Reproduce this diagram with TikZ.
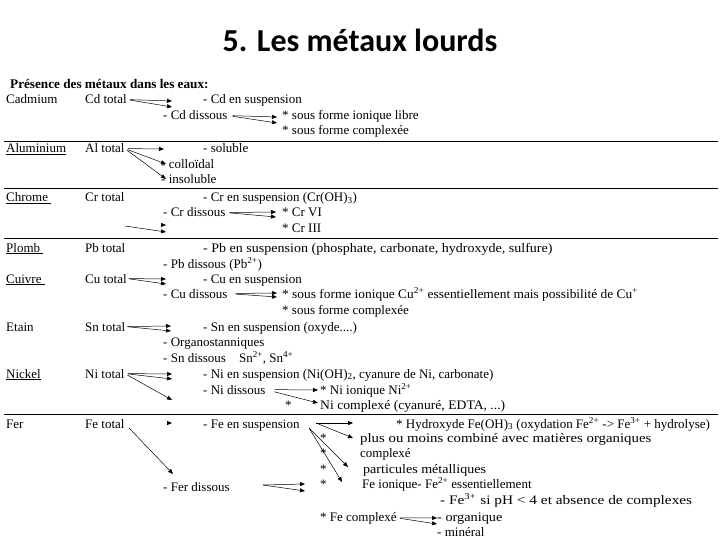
\documentclass[tikz,border=0pt]{standalone}
\usepackage{fontspec}
\usepackage{graphicx}
\setmainfont{Liberation Serif}
\newfontfamily\titlefont{Carlito}
\usetikzlibrary{arrows.meta}
\newcommand{\stretchtxt}[2]{\scalebox{#1}[1]{#2}}
\begin{document}
\begin{tikzpicture}[x=1pt,y=-1pt,
  txt/.style={anchor=base west, inner sep=0pt, font=\fontsize{13}{15}\selectfont},
  arr/.style={-{Triangle[length=5pt,width=4pt]}, line width=0.5pt},
  sep/.style={line width=0.9pt}]
\useasboundingbox (0,0) rectangle (720,540);
\fill[white] (0,0) rectangle (720,540);

% title and heading
\node[anchor=base, inner sep=0pt, font=\titlefont\bfseries\fontsize{32}{36}\selectfont] (title) at (360,52) {5. Les métaux lourds};
\node[txt, font=\bfseries\fontsize{13.2}{15}\selectfont] (head) at (10,89) {Présence des métaux dans les eaux:};

% separator rules
\coordinate (l1a) at (4,141);  \coordinate (l1b) at (718,141);
\coordinate (l2a) at (4,188);  \coordinate (l2b) at (718,188);
\coordinate (l3a) at (4,238);  \coordinate (l3b) at (718,238);
\coordinate (l4a) at (4,414);  \coordinate (l4b) at (718,414);
\draw[sep] (l1a) -- (l1b);
\draw[sep] (l2a) -- (l2b);
\draw[sep] (l3a) -- (l3b);
\draw[sep] (l4a) -- (l4b);

% Cadmium
\node[txt] (cad) at (6,104) {Cadmium};
\node[txt] (cdtot) at (85,104) {Cd total};
\node[txt] (cdsusp) at (203,104) {- Cd en suspension};
\node[txt] (cddis) at (163,120) {- Cd dissous};
\node[txt] (cdion) at (282,120) {* sous forme ionique libre};
\node[txt] (cdcpx) at (282,135) {* sous forme complexée};
\coordinate (cdt1) at (172,101);
\coordinate (cdt2) at (172,107);
\coordinate (cdd1) at (277,117);
\coordinate (cdd2) at (277,123);
\draw[arr, shorten <=3pt] (cdtot.east) -- (cdt1);
\draw[arr, shorten <=3pt] (cdtot.east) -- (cdt2);
\draw[arr, shorten <=5pt] (cddis.east) -- (cdd1);
\draw[arr, shorten <=5pt] (cddis.east) -- (cdd2);

% Aluminium
\node[txt] (alu) at (6,153) {\underline{Aluminium}};
\node[txt] (altot) at (85,153) {Al total};
\node[txt] (alsol) at (203,153) {- soluble};
\node[txt] (alcol) at (161,169) {- colloïdal};
\node[txt] (alins) at (161,184) {- insoluble};
\coordinate (alt1) at (164,149);
\coordinate (alt2) at (166,164);
\coordinate (alt3) at (166,179);
\draw[arr, shorten <=3pt] (altot.east) -- (alt1);
\draw[arr, shorten <=3pt] (altot.east) -- (alt2);
\draw[arr, shorten <=3pt] (altot.east) -- (alt3);

% Chrome
\node[txt] (chr) at (6,202) {\underline{Chrome\ }};
\node[txt] (crtot) at (85,202) {Cr total};
\node[txt] (crsusp) at (203,202) {- Cr en suspension (Cr(OH)\textsubscript{3})};
\node[txt] (crdis) at (163,217) {- Cr dissous};
\node[txt] (crvi) at (282,217) {* Cr VI};
\node[txt] (criii) at (282,233) {* Cr III};
\coordinate (crd1) at (276,212);
\coordinate (crd2) at (276,217);
\draw[arr, shorten <=4pt] (crdis.east) -- (crd1);
\draw[arr, shorten <=4pt] (crdis.east) -- (crd2);
\coordinate (crx0) at (125,226);
\coordinate (crx1) at (166,232);
\coordinate (crs0) at (162,225);
\coordinate (crs1) at (166,225);
\draw[arr] (crx0) -- (crx1);
\draw[arr] (crs0) -- (crs1);

% Plomb
\node[txt] (plo) at (6,252) {\underline{Plomb\ }};
\node[txt] (pbtot) at (85,252) {Pb total};
\node[txt] (pbsusp) at (203,252) {\stretchtxt{1.08}{- Pb en suspension (phosphate, carbonate, hydroxyde, sulfure)}};
\node[txt] (pbdis) at (163,268) {- Pb dissous (Pb\textsuperscript{2+})};

% Cuivre
\node[txt] (cui) at (6,283) {\underline{Cuivre\ }};
\node[txt] (cutot) at (85,283) {Cu total};
\node[txt] (cususp) at (203,283) {- Cu en suspension};
\node[txt] (cudis) at (163,298) {- Cu dissous};
\node[txt] (cuion) at (282,298) {\stretchtxt{1.03}{* sous forme ionique Cu\textsuperscript{2+} essentiellement mais possibilité de Cu\textsuperscript{+}}};
\node[txt] (cucpx) at (282,314) {* sous forme complexée};
\coordinate (cut1) at (166,279);
\coordinate (cut2) at (166,284);
\coordinate (cud1) at (277,293);
\coordinate (cud2) at (277,297);
\draw[arr, shorten <=2pt] (cutot.east) -- (cut1);
\draw[arr, shorten <=2pt] (cutot.east) -- (cut2);
\draw[arr, shorten <=8pt] (cudis.east) -- (cud1);
\draw[arr, shorten <=8pt] (cudis.east) -- (cud2);

% Etain
\node[txt] (eta) at (6,331) {Etain};
\node[txt] (sntot) at (85,331) {Sn total};
\node[txt] (snsusp) at (203,331) {- Sn en suspension (oxyde....)};
\node[txt] (snorg) at (163,346) {- Organostanniques};
\node[txt] (sndis) at (163,362) {- Sn dissous\quad Sn\textsuperscript{2+}, Sn\textsuperscript{4+}};
\coordinate (snt1) at (171,326);
\coordinate (snt2) at (171,331);
\draw[arr, shorten <=2pt] (sntot.east) -- (snt1);
\draw[arr, shorten <=2pt] (sntot.east) -- (snt2);

% Nickel
\node[txt] (nic) at (6,378) {\underline{Nickel}};
\node[txt] (nitot) at (85,378) {Ni total};
\node[txt] (nisusp) at (203,378) {- Ni en suspension (Ni(OH)\textsubscript{2}, cyanure de Ni, carbonate)};
\node[txt] (nidis) at (203,394) {- Ni dissous};
\node[txt] (niion) at (320,394) {* Ni ionique Ni\textsuperscript{2+}};
\node[txt] (nistar) at (285,409) {*};
\node[txt] (nicpx) at (320,409) {\stretchtxt{1.05}{Ni complexé (cyanuré, EDTA, ...)}};
\coordinate (nit1) at (172,374);
\coordinate (nit2) at (172,379);
\coordinate (nit3) at (172,400);
\coordinate (nid1) at (318,390);
\coordinate (nid2) at (318,403);
\draw[arr, shorten <=3pt] (nitot.east) -- (nit1);
\draw[arr, shorten <=3pt] (nitot.east) -- (nit2);
\draw[arr, shorten <=3pt] (nitot.east) -- (nit3);
\draw[arr, shorten <=9pt] (nidis.east) -- (nid1);
\draw[arr, shorten <=9pt] (nidis.east) -- (nid2);

% Fer
\node[txt] (fer) at (6,428) {Fer};
\node[txt] (fetot) at (85,428) {Fe total};
\node[txt] (fesusp) at (203,428) {- Fe en suspension};
\node[txt] (ferdis) at (163,491) {- Fer dissous};
\node[txt] (fehyd) at (396,428) {* Hydroxyde Fe(OH)\textsubscript{3} (oxydation Fe\textsuperscript{2+} -> Fe\textsuperscript{3+} + hydrolyse)};
\node[txt] (feplus) at (360,442) {\stretchtxt{1.14}{plus ou moins combiné avec matières organiques}};
\node[txt] (fecx) at (360,457) {complexé};
\node[txt] (fepart) at (363,473) {\stretchtxt{1.08}{particules métalliques}};
\node[txt] (feion) at (362,488) {Fe ionique- Fe\textsuperscript{2+} essentiellement};
\node[txt] (fe3) at (440,504) {\stretchtxt{1.18}{- Fe\textsuperscript{3+} si pH < 4 et absence de complexes}};
\node[txt] (fecpx) at (320,521) {* Fe complexé};
\node[txt] (feorg) at (437,521) {\stretchtxt{1.1}{- organique}};
\node[txt] (femin) at (437,536) {- minéral};
\node[txt] (fs1) at (320,442) {*};
\node[txt] (fs2) at (320,457) {*};
\node[txt] (fs3) at (320,473) {*};
\node[txt] (fs4) at (320,488) {*};
% Fe total arrows
\coordinate (fet1) at (173,474);
\coordinate (fes0) at (167,423);
\coordinate (fes1) at (172,423);
\draw[arr, shorten <=6pt] (fetot.east) -- (fet1);
\draw[arr] (fes0) -- (fes1);
% Fe en suspension arrows
\coordinate (fsa) at (316,423);
\coordinate (fsb) at (309,428);
\coordinate (fsu1) at (353,423);
\coordinate (fsu2) at (353,438);
\coordinate (fsu3) at (348,467);
\coordinate (fsu4) at (342,482);
\draw[arr] (fsa) -- (fsu1);
\draw[arr] (fsa) -- (fsu2);
\draw[arr] (fsb) -- (fsu3);
\draw[arr] (fsb) -- (fsu4);
% Fer dissous arrows
\coordinate (fda) at (263,485);
\coordinate (fdd1) at (305,484);
\coordinate (fdd2) at (305,491);
\draw[arr] (fda) -- (fdd1);
\draw[arr] (fda) -- (fdd2);
% Fe complexe arrows
\coordinate (fcx1) at (437,518);
\coordinate (fcx2) at (437,524);
\draw[arr, shorten <=3pt] (fecpx.east) -- (fcx1);
\draw[arr, shorten <=3pt] (fecpx.east) -- (fcx2);
\end{tikzpicture}
\end{document}
